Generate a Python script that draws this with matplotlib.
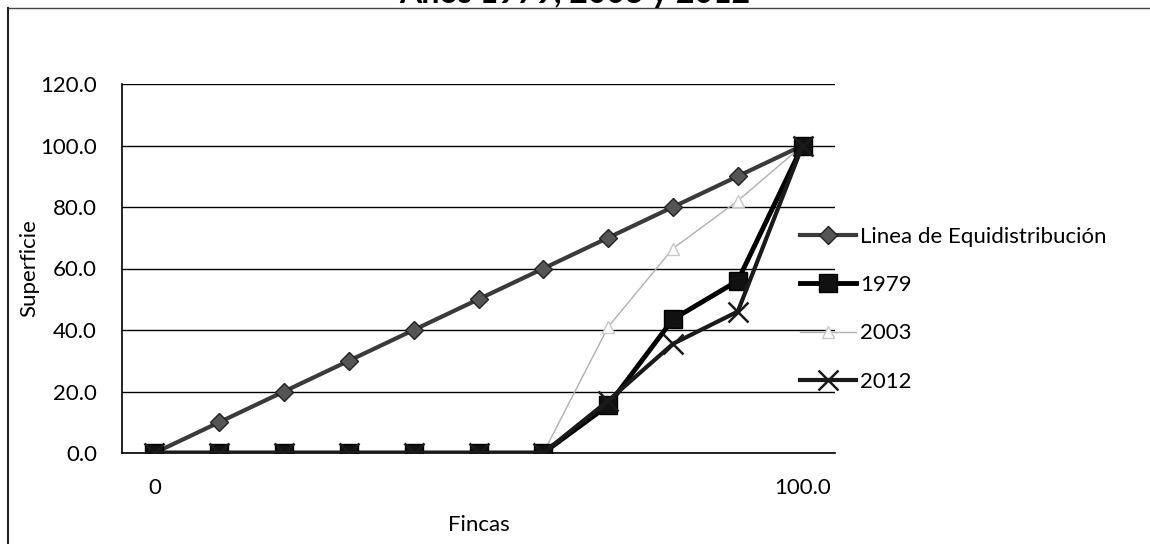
import matplotlib.pyplot as plt
import numpy as np
from matplotlib.lines import Line2D

plt.rcParams['font.family'] = ['Lato', 'DejaVu Sans']

# categorias del eje x (solo se rotulan la primera y la ultima)
categorias = ['0', '10', '20', '30', '40', '50', '60', '70', '80', '90', '100.0']
etiquetas_x = ['0', '', '', '', '', '', '', '', '', '', '100.0']

equidistribucion = [0, 10, 20, 30, 40, 50, 60, 70, 80, 90, 100]
s1979 = [0, 0, 0, 0, 0, 0, 0, 15.5, 43.5, 56, 100]
s2003 = [0, 0, 0, 0, 0, 0, 0, 41, 66.5, 82, 100]
s2012 = [0, 0, 0, 0, 0, 0, 0, 17, 35.5, 46, 100]

fig = plt.figure(figsize=(11.5, 5.44), dpi=100)
ax = fig.add_axes([122 / 1150, 1 - 453 / 544, (835 - 122) / 1150, (453 - 84) / 544])

x = np.arange(len(categorias))

l1, = ax.plot(x, equidistribucion, color='#3a3a3a', lw=3, marker='D', ms=9,
              mfc='#555555', mec='#222222', label='Linea de Equidistribución', zorder=3)
l2, = ax.plot(x, s1979, color='black', lw=3.5, marker='s', ms=13,
              mfc='#111111', mec='black', label='1979', zorder=4)
l3, = ax.plot(x, s2003, color='#b0b0b0', lw=1, marker='^', ms=8,
              mfc='white', mec='#c8c8c8', label='2003', zorder=3)
l4, = ax.plot(x, s2012, color='#1a1a1a', lw=3, marker='x', ms=14, mew=1.8,
              label='2012', zorder=5)

ax.set_xlim(-0.5, 10.5)
ax.set_ylim(0, 120)
ax.set_yticks(np.arange(0, 121, 20))
ax.set_yticklabels(['%.1f' % v for v in np.arange(0, 121, 20)])
ax.set_xticks(x)
ax.set_xticklabels(etiquetas_x)
ax.tick_params(axis='both', length=0, labelsize=16)
ax.tick_params(axis='y', pad=18)
ax.tick_params(axis='x', pad=18)

ax.grid(axis='y', color='black', lw=1)
ax.set_axisbelow(True)
for s in ['top', 'right']:
    ax.spines[s].set_visible(False)
ax.spines['left'].set_linewidth(1.2)
ax.spines['bottom'].set_linewidth(1.2)

ax.set_ylabel('Superficie', fontsize=16)
ax.yaxis.set_label_coords((39 - 122) / 713, 0.5)
ax.set_xlabel('Fincas', fontsize=16, labelpad=12)

fig.legend(handles=[l1, l2, l3, l4], loc='upper left', bbox_to_anchor=(800 / 1150, 1 - 227 / 544),
           frameon=False, fontsize=16, handlelength=2.5, handletextpad=0.2,
           labelspacing=1.27, borderpad=0, borderaxespad=0)

fig.text(0.5, 1 - 3 / 544, 'Años 1979, 2003 y 2012', ha='center', va='baseline',
         fontsize=23, fontweight='bold')

# borde del grafico
fig.add_artist(Line2D([8 / 1150, 1], [1 - 8 / 544, 1 - 8 / 544], color='#444444', lw=1))
fig.add_artist(Line2D([8 / 1150, 8 / 1150], [0, 1 - 8 / 544], color='#222222', lw=1.5))

fig.savefig('out.png', dpi=100)
